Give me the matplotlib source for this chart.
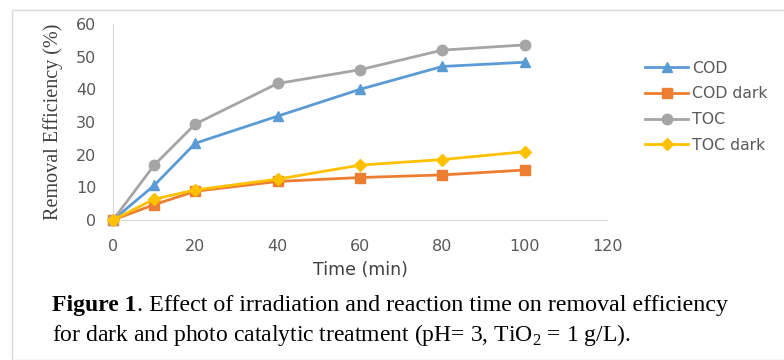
import matplotlib.pyplot as plt
from matplotlib.patches import Rectangle

plt.rcParams["mathtext.fontset"] = "custom"
plt.rcParams["mathtext.rm"] = "Liberation Serif"

time_min = [0, 10, 20, 40, 60, 80, 100]
cod = [0, 10.6, 23.5, 31.8, 40, 47, 48.3]
cod_dark = [0, 4.7, 8.8, 11.8, 13, 13.8, 15.3]
toc = [0, 16.8, 29.4, 41.8, 46, 52, 53.6]
toc_dark = [0, 6.4, 9.2, 12.5, 16.8, 18.5, 20.9]

series = [
    ("COD", cod, "#5B9BD5", "^"),
    ("COD dark", cod_dark, "#ED7D31", "s"),
    ("TOC", toc, "#A5A5A5", "o"),
    ("TOC dark", toc_dark, "#FFC000", "D"),
]

fig = plt.figure(figsize=(7.84, 3.6), dpi=100)
# grey frame around the chart
fig.patches.append(Rectangle((12 / 784, 0), 1, 1 - 10 / 360, transform=fig.transFigure,
                             fill=False, edgecolor="#d9d9d9", linewidth=1))

ax = fig.add_axes([113 / 784, 140 / 360, 494 / 784, 196 / 360])
for name, vals, col, mk in series:
    ax.plot(time_min, vals, color=col, marker=mk, markersize=7.5 if mk != "D" else 6.5,
            linewidth=2, label=name, clip_on=False, zorder=3)

ax.set_xlim(0, 120)
ax.set_ylim(0, 60)
ax.set_xticks(range(0, 121, 20))
ax.set_yticks(range(0, 61, 10))
for s in ["top", "right"]:
    ax.spines[s].set_visible(False)
for s in ["left", "bottom"]:
    ax.spines[s].set_color("#d9d9d9")
ax.tick_params(length=0, labelsize=11.5, labelcolor="#595959")
ax.tick_params(axis="x", pad=14)
ax.tick_params(axis="y", pad=12)
ax.set_xlabel("Time (min)", fontsize=12.5, color="#404040", labelpad=5)
ax.set_ylabel("Removal Efficiency (%)", fontsize=14.5, family="Liberation Serif",
              color="#404040", labelpad=9)

ax.legend(loc="upper left", bbox_to_anchor=(1.065, 0.845), frameon=False,
          fontsize=11.3, labelcolor="#595959", handlelength=2.7,
          handletextpad=0.25, labelspacing=0.68, borderaxespad=0)

cap_y1 = 1 - 305 / 360
cap_y2 = 1 - 335 / 360
fig.text(52 / 784, cap_y1, "Figure 1", fontsize=17, family="Liberation Serif",
         fontweight="bold", va="center")
fig.text(137 / 784, cap_y1,
         ". Effect of irradiation and reaction time on removal efficiency",
         fontsize=17.3, family="Liberation Serif", va="center")
fig.text(52 / 784, cap_y2,
         r"for dark and photo catalytic treatment (pH= 3, TiO$_2$ = 1 g/L).",
         fontsize=17, family="Liberation Serif", va="center")

fig.savefig("out.png", dpi=100)
